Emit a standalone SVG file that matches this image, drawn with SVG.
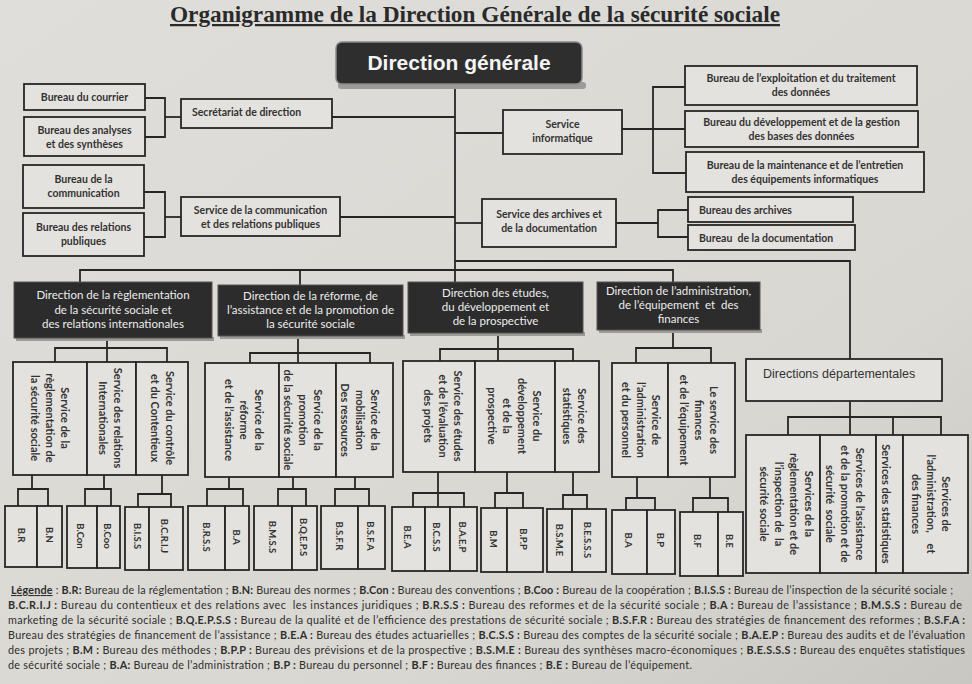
<svg xmlns="http://www.w3.org/2000/svg" width="972" height="684" viewBox="0 0 972 684">
<defs>
<linearGradient id="paper" x1="0" y1="0" x2="1" y2="1">
<stop offset="0" stop-color="#e0deda"/>
<stop offset="0.7" stop-color="#d9d7d2"/>
<stop offset="1" stop-color="#c9c7c2"/>
</linearGradient>
<style>
.box{fill:#e4e2de;stroke:#262626;stroke-width:1.8}
.dark{fill:#2c2c2c;stroke:#555;stroke-width:1}
.shd{fill:#9d9b97}
.t{font-family:Lato,"Open Sans","Liberation Sans",sans-serif;font-size:10.5px;font-weight:700;fill:#333}
.c{text-anchor:middle}
.dt{font-family:Lato,"Open Sans","Liberation Sans",sans-serif;font-size:11.5px;fill:#ececec;text-anchor:middle}
.vt{font-family:Lato,"Open Sans","Liberation Sans",sans-serif;font-size:11px;font-weight:700;fill:#333;text-anchor:middle}
.bt{font-family:Lato,"Open Sans","Liberation Sans",sans-serif;font-size:9.5px;font-weight:700;fill:#333;text-anchor:middle}
.lg{font-family:Lato,"Open Sans","Liberation Sans",sans-serif;font-size:10.8px;fill:#2e2e2e}
.k{font-weight:700}
#connectors path{fill:none;stroke:#262626;stroke-width:1.8}
</style>
</defs>
<rect x="0" y="0" width="972" height="684" fill="url(#paper)"/>

<g id="title">
<text x="475" y="22" text-anchor="middle" font-family="Liberation Serif, serif" font-size="22.5" font-weight="700" fill="#2a2a2a" text-decoration="underline" textLength="610" lengthAdjust="spacingAndGlyphs">Organigramme de la Direction Générale de la sécurité sociale</text>
</g>

<g id="connectors">
<path d="M455 84 V282"/>
<path d="M332 117 H455"/>
<path d="M340 217 H455"/>
<path d="M455 133 H503"/>
<path d="M455 223 H482"/>
<path d="M455 261 H850 V359"/>
<path d="M80 282 V270 H673 V282"/>
<path d="M300 270 V285"/>
<path d="M145 98 H165 V137 H145"/>
<path d="M165 117 H181"/>
<path d="M144 192 H165 V237 H144"/>
<path d="M165 217 H181"/>
<path d="M622 129 H685"/>
<path d="M685 87 H653 V173 H686"/>
<path d="M616 223 H658"/>
<path d="M688 210 H658 V237 H688"/>
<path d="M107 338 V362"/>
<path d="M55 362 V348 H167 V362"/>
<path d="M298 336 V363"/>
<path d="M250 363 V353 H370 V363"/>
<path d="M498 333 V361"/>
<path d="M440 361 V349 H573 V361"/>
<path d="M673 330 V348"/>
<path d="M636 363 V348 H711 V363"/>
<path d="M850 401 V435"/>
<path d="M788 435 V417 H941 V435"/>
<path d="M893 417 V435"/>
<path d="M32 475 V489"/><path d="M18 506 V489 H48 V506"/>
<path d="M104 475 V489"/><path d="M85 506 V489 H111 V506"/>
<path d="M162 475 V494"/><path d="M138 507 V494 H171 V507"/>
<path d="M229 477 V489"/><path d="M207 506 V489 H243 V506"/>
<path d="M293 477 V489"/><path d="M278 506 V489 H306 V506"/>
<path d="M355 477 V489"/><path d="M335 506 V489 H369 V506"/>
<path d="M438 472 V507"/><path d="M413 507 V493 H464 V507"/>
<path d="M507 472 V493"/><path d="M495 508 V493 H523 V508"/>
<path d="M573 472 V495"/><path d="M563 509 V495 H587 V509"/>
<path d="M637 477 V498"/><path d="M626 510 V498 H655 V510"/>
<path d="M710 477 V498"/><path d="M693 512 V498 H728 V512"/>
</g>

<g id="direction-generale">
<rect class="shd" x="338" y="82" width="248" height="7" rx="3"/>
<rect x="336" y="42" width="246" height="42" rx="6" fill="#2e2e2e" stroke="#8a8a8a" stroke-width="1.5"/>
<text x="459" y="70" text-anchor="middle" font-family="Liberation Sans, Arial, sans-serif" font-size="21" font-weight="700" fill="#f4f4f4">Direction générale</text>
</g>

<g id="bureau-courrier"><rect class="box" x="24" y="84" width="121" height="26"/><text class="t c" x="84.5" y="101">Bureau du courrier</text></g>
<g id="bureau-analyses"><rect class="box" x="24" y="117" width="121" height="39"/><text class="t c" x="84.5" y="133.5">Bureau des analyses<tspan x="84.5" y="147.5">et des synthèses</tspan></text></g>
<g id="secretariat"><rect class="box" x="181" y="99" width="151" height="29"/><text class="t" x="192" y="116">Secrétariat de direction</text></g>
<g id="bureau-communication"><rect class="box" x="23" y="165" width="121" height="43"/><text class="t c" x="83.5" y="183">Bureau de la<tspan x="83.5" y="197">communication</tspan></text></g>
<g id="bureau-relations-publiques"><rect class="box" x="23" y="213" width="121" height="43"/><text class="t c" x="83.5" y="231">Bureau des relations<tspan x="83.5" y="245">publiques</tspan></text></g>
<g id="service-communication"><rect class="box" x="181" y="197" width="159" height="39"/><text class="t c" x="260.5" y="214">Service de la communication<tspan x="260.5" y="228">et des relations publiques</tspan></text></g>

<g id="service-informatique"><rect class="box" x="503" y="110" width="119" height="44"/><text class="t c" x="562.5" y="128">Service<tspan x="562.5" y="142">informatique</tspan></text></g>
<g id="bureau-exploitation"><rect class="box" x="685" y="66" width="232" height="39"/><text class="t c" x="801" y="82">Bureau de l’exploitation et du traitement<tspan x="801" y="96">des données</tspan></text></g>
<g id="bureau-developpement"><rect class="box" x="685" y="111" width="233" height="36"/><text class="t c" x="801.5" y="126">Bureau du développement et de la gestion<tspan x="801.5" y="140">des bases des données</tspan></text></g>
<g id="bureau-maintenance"><rect class="box" x="686" y="152" width="238" height="40"/><text class="t c" x="805" y="169">Bureau de la maintenance et de l’entretien<tspan x="805" y="183">des équipements informatiques</tspan></text></g>
<g id="service-archives"><rect class="box" x="482" y="199" width="134" height="48"/><text class="t c" x="549" y="218">Service des archives et<tspan x="549" y="232">de la documentation</tspan></text></g>
<g id="bureau-archives"><rect class="box" x="688" y="197" width="165" height="25"/><text class="t" x="699" y="213.5">Bureau des archives</text></g>
<g id="bureau-documentation"><rect class="box" x="688" y="225" width="167" height="25"/><text class="t" x="699" y="241.5">Bureau&#160; de la documentation</text></g>

<g id="dir-reglementation"><rect class="shd" x="16" y="337" width="198" height="4"/><rect class="dark" x="14" y="282" width="198" height="56"/><text class="dt" x="113" y="299">Direction de la règlementation<tspan x="113" y="313.5">de la sécurité sociale et</tspan><tspan x="113" y="328">des relations internationales</tspan></text></g>
<g id="dir-reforme"><rect class="shd" x="220" y="335" width="185" height="4"/><rect class="dark" x="218" y="285" width="185" height="51"/><text class="dt" x="310.5" y="300">Direction de la réforme, de<tspan x="310.5" y="314">l’assistance et de la promotion de</tspan><tspan x="310.5" y="328">la sécurité sociale</tspan></text></g>
<g id="dir-etudes"><rect class="shd" x="410" y="332" width="175" height="4"/><rect class="dark" x="408" y="282" width="175" height="51"/><text class="dt" x="495.5" y="297">Direction des études,<tspan x="495.5" y="311">du développement et</tspan><tspan x="495.5" y="325">de la prospective</tspan></text></g>
<g id="dir-administration"><rect class="shd" x="599" y="329" width="163" height="4"/><rect class="dark" x="597" y="282" width="163" height="48"/><text class="dt" x="678.5" y="295">Direction de l’administration,<tspan x="678.5" y="309">de l’équipement&#160; et&#160; des</tspan><tspan x="678.5" y="323">finances</tspan></text></g>

<g id="dir-departementales"><rect class="box" x="746" y="359" width="196" height="42"/><text x="763" y="378" font-family="Liberation Sans, Arial, sans-serif" font-size="12.5" fill="#333">Directions départementales</text></g>

<g id="services-reglementation">
<rect class="box" x="13" y="362" width="74" height="113"/><text class="vt" transform="translate(50,418) rotate(90)"><tspan x="0" y="-11">Service de la</tspan><tspan x="0" y="4">règlementation de</tspan><tspan x="0" y="19">la sécurité sociale</tspan></text>
<rect class="box" x="87" y="362" width="49" height="113"/><text class="vt" transform="translate(110,418) rotate(90)"><tspan x="0" y="-3.5">Service des relations</tspan><tspan x="0" y="11.5">Internationales</tspan></text>
<rect class="box" x="136" y="362" width="52" height="113"/><text class="vt" transform="translate(162,418) rotate(90)"><tspan x="0" y="-3.5">Service du contrôle</tspan><tspan x="0" y="11.5">et du Contentieux</tspan></text>
</g>
<g id="services-reforme">
<rect class="box" x="205" y="363" width="74" height="114"/><text class="vt" transform="translate(244,420) rotate(90)"><tspan x="0" y="-11">Service de la</tspan><tspan x="0" y="4">réforme</tspan><tspan x="0" y="19">et de l’assistance</tspan></text>
<rect class="box" x="279" y="363" width="57" height="114"/><text class="vt" transform="translate(303,420) rotate(90)"><tspan x="0" y="-11">Service de la</tspan><tspan x="0" y="4">promotion</tspan><tspan x="0" y="19">de la sécurité sociale</tspan></text>
<rect class="box" x="336" y="363" width="57" height="114"/><text class="vt" transform="translate(360,420) rotate(90)"><tspan x="0" y="-11">Service de la</tspan><tspan x="0" y="4">mobilisation</tspan><tspan x="0" y="19">Des ressources</tspan></text>
</g>
<g id="services-etudes">
<rect class="box" x="403" y="361" width="72" height="111"/><text class="vt" transform="translate(443,416) rotate(90)"><tspan x="0" y="-11">Service des études</tspan><tspan x="0" y="4">et de l’évaluation</tspan><tspan x="0" y="19">des projets</tspan></text>
<rect class="box" x="475" y="361" width="80" height="111"/><text class="vt" transform="translate(514,416) rotate(90)"><tspan x="0" y="-18.5">Service du</tspan><tspan x="0" y="-3.5">développement</tspan><tspan x="0" y="11.5">et de la</tspan><tspan x="0" y="26.5">prospective</tspan></text>
<rect class="box" x="555" y="361" width="44" height="111"/><text class="vt" transform="translate(574,416) rotate(90)"><tspan x="0" y="-3.5">Service des</tspan><tspan x="0" y="11.5">statistiques</tspan></text>
</g>
<g id="services-administration">
<rect class="box" x="612" y="363" width="56" height="114"/><text class="vt" transform="translate(641,420) rotate(90)"><tspan x="0" y="-11">Service de</tspan><tspan x="0" y="4">l’administration</tspan><tspan x="0" y="19">et du personnel</tspan></text>
<rect class="box" x="668" y="363" width="67" height="114"/><text class="vt" transform="translate(699,420) rotate(90)"><tspan x="0" y="-11">Le service des</tspan><tspan x="0" y="4">finances</tspan><tspan x="0" y="19">et de l’équipement</tspan></text>
</g>
<g id="services-departementaux">
<rect class="box" x="746" y="435" width="74" height="138"/><text class="vt" transform="translate(786,504) rotate(90)"><tspan x="0" y="-18.5">Services de la</tspan><tspan x="0" y="-3.5">règlementation et de</tspan><tspan x="0" y="11.5">l’inspection de&#160; la</tspan><tspan x="0" y="26.5">sécurité sociale</tspan></text>
<rect class="box" x="820" y="435" width="56" height="138"/><text class="vt" transform="translate(845,504) rotate(90)"><tspan x="0" y="-11">Services de l’assistance</tspan><tspan x="0" y="4">et de la promotion et de</tspan><tspan x="0" y="19">sécurité&#160; sociale</tspan></text>
<rect class="box" x="876" y="435" width="27" height="138"/><text class="vt" transform="translate(886,504) rotate(90)"><tspan x="0" y="4">Services des statistiques</tspan></text>
<rect class="box" x="903" y="435" width="65" height="138"/><text class="vt" transform="translate(931,504) rotate(90)"><tspan x="0" y="-11">Services de</tspan><tspan x="0" y="4">l’administration,&#160;&#160;&#160; et</tspan><tspan x="0" y="19">des finances</tspan></text>
</g>

<g id="bureaux-reglementation">
<rect class="box" x="5" y="506" width="32" height="61"/><text class="bt" transform="translate(21,535) rotate(90)" y="3">B.R</text>
<rect class="box" x="37" y="506" width="25" height="61"/><text class="bt" transform="translate(49,535) rotate(90)" y="3">B.N</text>
<rect class="box" x="67" y="506" width="30" height="62"/><text class="bt" transform="translate(80,536) rotate(90)" y="3">B.Con</text>
<rect class="box" x="97" y="506" width="23" height="62"/><text class="bt" transform="translate(107,536) rotate(90)" y="3">B.Coo</text>
<rect class="box" x="125" y="507" width="24" height="63"/><text class="bt" transform="translate(137,536) rotate(90)" y="3">B.I.S.S</text>
<rect class="box" x="149" y="507" width="34" height="63"/><text class="bt" transform="translate(164,536) rotate(90)" y="3">B.C.R.I.J</text>
</g>
<g id="bureaux-reforme">
<rect class="box" x="188" y="506" width="37" height="64"/><text class="bt" transform="translate(206,537) rotate(90)" y="3">B.R.S.S</text>
<rect class="box" x="225" y="506" width="24" height="64"/><text class="bt" transform="translate(236,537) rotate(90)" y="3">B.A</text>
<rect class="box" x="254" y="506" width="38" height="64"/><text class="bt" transform="translate(272,537) rotate(90)" y="3">B.M.S.S</text>
<rect class="box" x="292" y="506" width="25" height="64"/><text class="bt" transform="translate(303,537) rotate(90)" y="3">B.Q.E.P.S</text>
<rect class="box" x="321" y="506" width="37" height="63"/><text class="bt" transform="translate(339,536) rotate(90)" y="3">B.S.F.R</text>
<rect class="box" x="358" y="506" width="27" height="63"/><text class="bt" transform="translate(370,536) rotate(90)" y="3">B.S.F.A</text>
</g>
<g id="bureaux-etudes">
<rect class="box" x="392" y="507" width="33" height="64"/><text class="bt" transform="translate(407,537) rotate(90)" y="3">B.E.A</text>
<rect class="box" x="425" y="507" width="25" height="64"/><text class="bt" transform="translate(436,537) rotate(90)" y="3">B.C.S.S</text>
<rect class="box" x="450" y="507" width="27" height="64"/><text class="bt" transform="translate(462,537) rotate(90)" y="3">B.A.E.P</text>
<rect class="box" x="481" y="508" width="26" height="64"/><text class="bt" transform="translate(493,539) rotate(90)" y="3">B.M</text>
<rect class="box" x="507" y="508" width="36" height="64"/><text class="bt" transform="translate(523,539) rotate(90)" y="3">B.P.P</text>
<rect class="box" x="547" y="509" width="25" height="63"/><text class="bt" transform="translate(559,540) rotate(90)" y="3">B.S.M.E</text>
<rect class="box" x="572" y="509" width="34" height="63"/><text class="bt" transform="translate(587,540) rotate(90)" y="3">B.E.S.S.S</text>
</g>
<g id="bureaux-administration">
<rect class="box" x="612" y="510" width="35" height="64"/><text class="bt" transform="translate(628,540) rotate(90)" y="3">B.A</text>
<rect class="box" x="647" y="510" width="28" height="64"/><text class="bt" transform="translate(660,540) rotate(90)" y="3">B.P</text>
<rect class="box" x="680" y="512" width="38" height="64"/><text class="bt" transform="translate(697,541) rotate(90)" y="3">B.F</text>
<rect class="box" x="718" y="512" width="25" height="64"/><text class="bt" transform="translate(729,541) rotate(90)" y="3">B.E</text>
</g>

<g id="legende">
<text class="lg" x="11" y="594" textLength="942" lengthAdjust="spacing"><tspan class="k" text-decoration="underline">Légende</tspan> : <tspan class="k">B.R:</tspan> Bureau de la réglementation ; <tspan class="k">B.N:</tspan> Bureau des normes ; <tspan class="k">B.Con :</tspan> Bureau des conventions ; <tspan class="k">B.Coo :</tspan> Bureau de la coopération ; <tspan class="k">B.I.S.S :</tspan> Bureau de l’inspection de la sécurité sociale ;</text>
<text class="lg" x="8" y="609" textLength="954" lengthAdjust="spacing"><tspan class="k">B.C.R.I.J :</tspan> Bureau du contentieux et des relations avec&#160; les instances juridiques ; <tspan class="k">B.R.S.S :</tspan> Bureau des reformes et de la sécurité sociale ; <tspan class="k">B.A :</tspan> Bureau de l’assistance ; <tspan class="k">B.M.S.S :</tspan> Bureau de</text>
<text class="lg" x="8" y="624" textLength="957" lengthAdjust="spacing">marketing de la sécurité sociale ; <tspan class="k">B.Q.E.P.S.S :</tspan> Bureau de la qualité et de l’efficience des prestations de sécurité sociale ; <tspan class="k">B.S.F.R :</tspan> Bureau des stratégies de financement des reformes ; <tspan class="k">B.S.F.A :</tspan></text>
<text class="lg" x="8" y="639" textLength="957" lengthAdjust="spacing">Bureau des stratégies de financement de l’assistance ; <tspan class="k">B.E.A :</tspan> Bureau des études actuarielles ; <tspan class="k">B.C.S.S :</tspan> Bureau des comptes de la sécurité sociale ; <tspan class="k">B.A.E.P :</tspan> Bureau des audits et de l’évaluation</text>
<text class="lg" x="8" y="654" textLength="957" lengthAdjust="spacing">des projets ; <tspan class="k">B.M :</tspan> Bureau des méthodes ; <tspan class="k">B.P.P :</tspan> Bureau des prévisions et de la prospective ; <tspan class="k">B.S.M.E :</tspan> Bureau des synthèses macro-économiques ; <tspan class="k">B.E.S.S.S :</tspan> Bureau des enquêtes statistiques</text>
<text class="lg" x="8" y="669" textLength="684" lengthAdjust="spacing">de sécurité sociale ; <tspan class="k">B.A:</tspan> Bureau de l’administration ; <tspan class="k">B.P :</tspan> Bureau du personnel ; <tspan class="k">B.F :</tspan> Bureau des finances ; <tspan class="k">B.E :</tspan> Bureau de l’équipement.</text>
</g>
</svg>
